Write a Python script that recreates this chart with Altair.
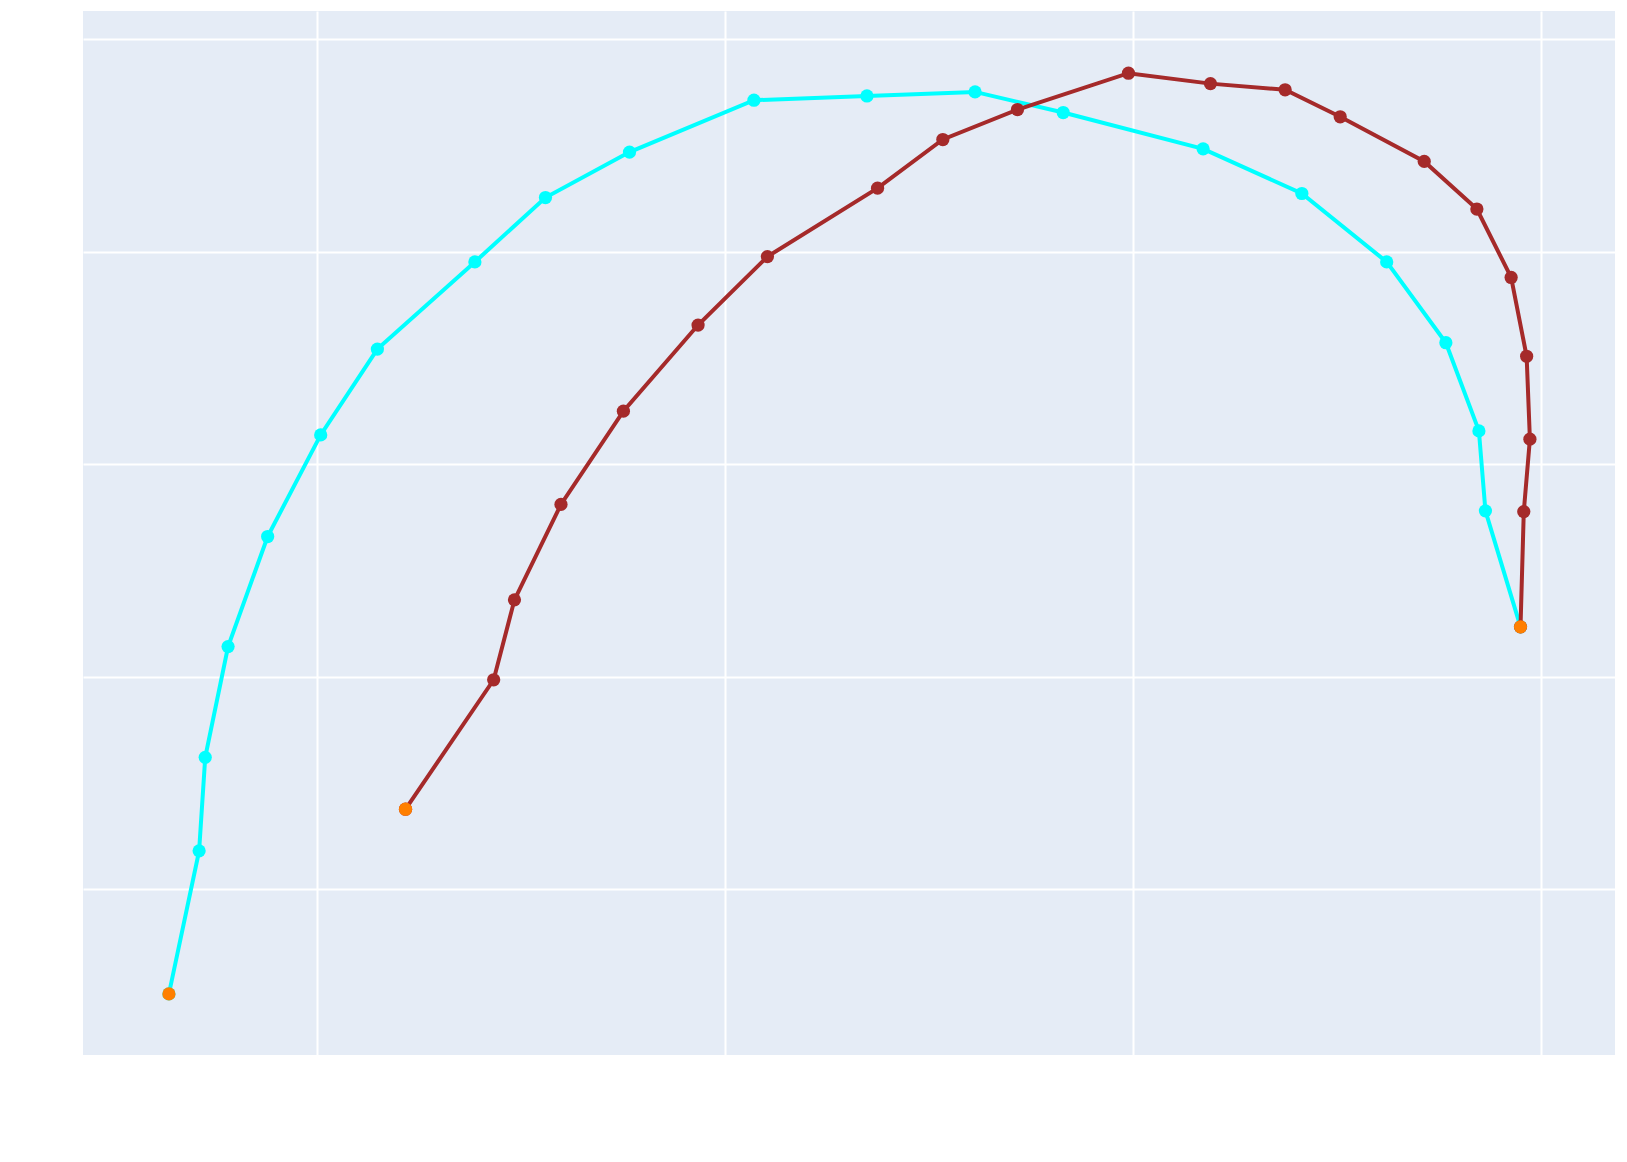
import altair as alt
import pandas as pd

# Cyan trajectory
cyan_x = [-0.364, -0.290, -0.275, -0.219, -0.122, 0.008, 0.147, 0.386, 0.559, 0.765,
          1.070, 1.347, 1.612, 1.828, 2.171, 2.413, 2.621, 2.766, 2.847, 2.863, 2.949]
cyan_y = [0.507, 1.180, 1.620, 2.141, 2.659, 3.137, 3.541, 3.951, 4.254, 4.468,
          4.712, 4.732, 4.751, 4.654, 4.483, 4.273, 3.951, 3.571, 3.156, 2.780, 2.234]

# Brown trajectory
brown_x = [0.216, 0.432, 0.483, 0.597, 0.750, 0.933, 1.103, 1.373, 1.533, 1.716,
           1.988, 2.189, 2.372, 2.507, 2.713, 2.842, 2.926, 2.964, 2.972, 2.957, 2.949]
brown_y = [1.376, 1.985, 2.361, 2.810, 3.249, 3.654, 3.976, 4.298, 4.527, 4.668,
           4.839, 4.790, 4.761, 4.634, 4.424, 4.200, 3.878, 3.507, 3.117, 2.776, 2.234]

# Start / end points (orange)
end_x = [-0.364, 0.216, 2.949]
end_y = [0.507, 1.376, 2.234]

x_domain = [-0.5746, 3.1806]
y_domain = [0.2195, 5.1317]

cyan_df = pd.DataFrame({"x": cyan_x, "y": cyan_y, "i": range(len(cyan_x))})
brown_df = pd.DataFrame({"x": brown_x, "y": brown_y, "i": range(len(brown_x))})
end_df = pd.DataFrame({"x": end_x, "y": end_y})

xs = alt.Scale(domain=x_domain, nice=False, zero=False)
ys = alt.Scale(domain=y_domain, nice=False, zero=False)
xax = alt.Axis(values=[0, 1, 2, 3], labels=False, ticks=False, domain=False, title=None,
               grid=True, gridColor="white", gridWidth=2)
yax = alt.Axis(values=[1, 2, 3, 4, 5], labels=False, ticks=False, domain=False, title=None,
               grid=True, gridColor="white", gridWidth=2)


def trace(df, color):
    base = alt.Chart(df).encode(
        x=alt.X("x:Q", scale=xs, axis=xax),
        y=alt.Y("y:Q", scale=ys, axis=yax),
        order="i:Q",
    )
    line = base.mark_line(color=color, strokeWidth=4, clip=True)
    pts = base.mark_circle(color=color, size=175, opacity=1)
    return line + pts


ends = alt.Chart(end_df).mark_circle(color="#FF7F00", size=175, opacity=1).encode(
    x=alt.X("x:Q", scale=xs, axis=xax),
    y=alt.Y("y:Q", scale=ys, axis=yax),
)

chart = alt.layer(
    trace(cyan_df, "#00FFFF"),
    trace(brown_df, "#A52A2A"),
    ends,
).properties(
    width=1532,
    height=1044,
    autosize=alt.AutoSizeParams(type="none"),
    padding={"left": 75, "top": 3, "right": 4, "bottom": 99},
    background="white",
).configure_view(
    fill="#E5ECF6",
    stroke=None,
)

chart.save("out.html", embed_options={"renderer": "svg", "actions": False})
